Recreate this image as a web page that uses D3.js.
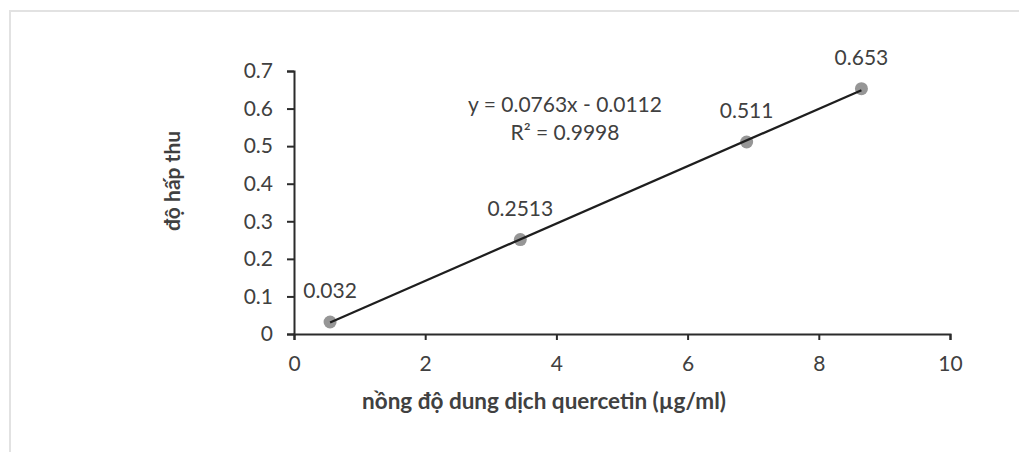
<!DOCTYPE html>
<html><head><meta charset="utf-8">
<script src="https://cdn.jsdelivr.net/npm/d3@7"></script>
<style>body{margin:0;background:#fff}svg{display:block}</style>
</head><body>
<script>
const xValues = [0.55, 3.45, 6.9, 8.65];
const yValues = [0.032, 0.2513, 0.511, 0.653];
const pointLabels = ["0.032", "0.2513", "0.511", "0.653"];
const xTicks = [0, 2, 4, 6, 8, 10];
const yTicks = [0, 0.1, 0.2, 0.3, 0.4, 0.5, 0.6, 0.7];
const slope = 0.0763, intercept = -0.0112;
const equationLines = ["y = 0.0763x - 0.0112", "R² = 0.9998"];
const xTitle = "nồng độ dung dịch quercetin (µg/ml)";
const yTitle = "độ hấp thu";

const W = 1019, H = 452;
const svg = d3.select("body").append("svg").attr("width", W).attr("height", H);
const font = "Lato, 'Open Sans', sans-serif";
const textColor = "#404040";

svg.append("rect").attr("x", 10).attr("y", 11).attr("width", W).attr("height", H)
  .attr("fill", "none").attr("stroke", "#e2e2e2").attr("stroke-width", 2);

const x = d3.scaleLinear().domain([0, 10]).range([294, 950]);
const y = d3.scaleLinear().domain([0, 0.7]).range([334, 71]);

const xAxis = svg.append("g").attr("transform", `translate(0,${y(0)})`)
  .call(d3.axisBottom(x).tickValues(xTicks).tickFormat(d3.format("d")).tickSizeOuter(0).tickSize(6).tickPadding(16));
const yAxis = svg.append("g").attr("transform", `translate(${x(0)},0)`)
  .call(d3.axisLeft(y).tickValues(yTicks).tickFormat(d => d === 0 ? "0" : d3.format(".1f")(d)).tickSizeOuter(0).tickSize(7).tickPadding(14));
[xAxis, yAxis].forEach(g => {
  g.select(".domain").attr("stroke", "#2b2b2b").attr("stroke-width", 2);
  g.selectAll(".tick line").attr("stroke", "#2b2b2b").attr("stroke-width", 2);
  g.selectAll(".tick text").attr("fill", textColor).style("font-family", font).style("font-size", "21px");
});

const x0 = d3.min(xValues), x1 = d3.max(xValues);
const defs = svg.append("defs");
defs.append("filter").attr("id", "soft").append("feGaussianBlur").attr("stdDeviation", 0.5);

const data = xValues.map((v, i) => ({x: v, y: yValues[i], label: pointLabels[i]}));
svg.append("g").selectAll("circle").data(data).join("circle")
  .attr("cx", d => x(d.x)).attr("cy", d => y(d.y)).attr("r", 6.5)
  .attr("fill", "#969696").attr("filter", "url(#soft)");

// trendline (drawn over the markers)
svg.append("line")
  .attr("x1", x(x0)).attr("y1", y(slope * x0 + intercept))
  .attr("x2", x(x1)).attr("y2", y(slope * x1 + intercept))
  .attr("stroke", "#1e1e1e").attr("stroke-width", 2.2);

svg.append("g").selectAll("text").data(data).join("text")
  .attr("x", d => x(d.x)).attr("y", d => y(d.y) - 24)
  .attr("text-anchor", "middle").attr("fill", textColor)
  .style("font-family", font).style("font-size", "21px")
  .text(d => d.label);

svg.append("g").selectAll("text").data(equationLines).join("text")
  .attr("x", 565).attr("y", (d, i) => 112 + i * 28)
  .attr("text-anchor", "middle").attr("fill", textColor)
  .style("font-family", font).style("font-size", "21px")
  .text(d => d);

svg.append("text").attr("x", 544).attr("y", 409).attr("text-anchor", "middle")
  .attr("fill", textColor).style("font-family", font).style("font-size", "22.5px").style("font-weight", "bold")
  .text(xTitle);
svg.append("text").attr("transform", "translate(180,181) rotate(-90)").attr("text-anchor", "middle")
  .attr("fill", textColor).style("font-family", font).style("font-size", "21px").style("font-weight", "bold")
  .text(yTitle);
</script>
</body></html>
